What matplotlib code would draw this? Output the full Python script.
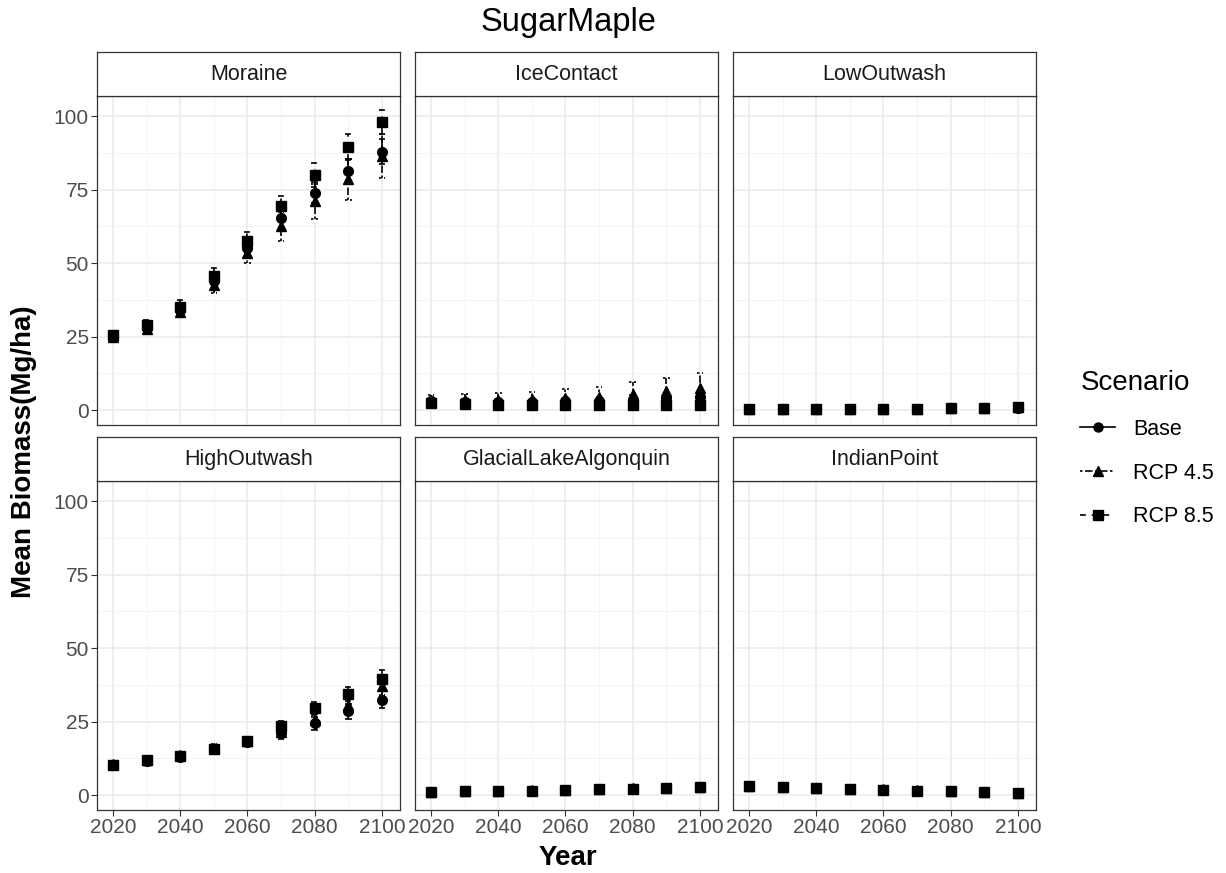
import matplotlib.pyplot as plt
from matplotlib.lines import Line2D
import numpy as np

plt.rcParams['font.family'] = ['Liberation Sans', 'DejaVu Sans']

years = [2020, 2030, 2040, 2050, 2060, 2070, 2080, 2090, 2100]
regions = ['Moraine', 'IceContact', 'LowOutwash',
           'HighOutwash', 'GlacialLakeAlgonquin', 'IndianPoint']
scenarios = ['Base', 'RCP 4.5', 'RCP 8.5']

# mean biomass per region, one list per scenario (Base, RCP 4.5, RCP 8.5)
moraine_mean = [[24.8, 28.0, 34.0, 44.0, 55.0, 65.5, 74.0, 81.5, 88.0],
                [25.0, 27.5, 33.5, 42.5, 53.5, 62.5, 71.0, 78.5, 86.5],
                [25.5, 29.0, 35.0, 45.5, 57.5, 69.5, 80.0, 89.5, 98.0]]
moraine_se = [[1.0, 1.4, 1.8, 2.3, 2.8, 3.2, 3.6, 4.0, 4.2],
              [1.0, 1.5, 2.0, 2.8, 3.5, 5.0, 6.0, 7.0, 7.5],
              [1.0, 1.6, 2.5, 3.0, 3.2, 3.5, 4.2, 4.3, 4.2]]

icecontact_mean = [[3.0, 2.8, 2.8, 2.7, 3.0, 3.2, 3.5, 4.0, 4.5],
                   [3.5, 3.5, 3.5, 3.8, 4.0, 4.5, 5.5, 6.5, 7.5],
                   [2.5, 2.0, 1.8, 1.8, 1.8, 1.8, 1.8, 1.7, 1.6]]
icecontact_se = [[1.0, 1.0, 1.0, 1.0, 1.2, 1.3, 1.5, 1.7, 2.0],
                 [1.5, 2.0, 2.2, 2.5, 3.0, 3.5, 4.0, 4.5, 5.0],
                 [0.8, 0.8, 0.8, 0.7, 0.7, 0.7, 0.7, 0.6, 0.6]]

lowoutwash_mean = [[0.2, 0.3, 0.3, 0.4, 0.4, 0.5, 0.6, 0.7, 0.8],
                   [0.2, 0.3, 0.3, 0.4, 0.5, 0.5, 0.6, 0.8, 0.9],
                   [0.2, 0.3, 0.3, 0.4, 0.4, 0.5, 0.6, 0.7, 0.9]]
lowoutwash_se = [[0.2, 0.2, 0.2, 0.2, 0.3, 0.3, 0.3, 0.3, 0.4],
                 [0.2, 0.2, 0.2, 0.2, 0.3, 0.3, 0.3, 0.4, 0.4],
                 [0.2, 0.2, 0.2, 0.2, 0.3, 0.3, 0.3, 0.3, 0.4]]

highoutwash_mean = [[10.2, 11.5, 13.0, 15.5, 18.0, 21.0, 24.5, 28.5, 32.5],
                    [10.5, 12.0, 13.5, 16.0, 18.5, 21.5, 25.5, 30.5, 37.0],
                    [10.3, 11.8, 13.3, 15.8, 18.5, 23.5, 29.5, 34.5, 39.5]]
highoutwash_se = [[0.8, 0.9, 1.0, 1.2, 1.4, 1.8, 2.2, 2.6, 2.8],
                  [0.8, 0.9, 1.0, 1.2, 1.4, 1.7, 2.0, 2.5, 3.0],
                  [0.8, 0.9, 1.0, 1.2, 1.4, 1.8, 2.2, 2.4, 3.0]]

gla_mean = [[1.0, 1.2, 1.4, 1.5, 1.7, 1.9, 2.1, 2.4, 2.7],
            [1.1, 1.3, 1.5, 1.6, 1.8, 2.0, 2.3, 2.5, 2.9],
            [1.0, 1.2, 1.4, 1.5, 1.7, 1.9, 2.2, 2.4, 2.8]]
gla_se = [[0.3, 0.3, 0.4, 0.4, 0.4, 0.4, 0.5, 0.5, 0.6],
          [0.3, 0.3, 0.4, 0.4, 0.4, 0.5, 0.5, 0.6, 0.6],
          [0.3, 0.3, 0.4, 0.4, 0.4, 0.4, 0.5, 0.5, 0.6]]

indianpoint_mean = [[3.0, 2.7, 2.4, 2.1, 1.8, 1.5, 1.2, 0.9, 0.7],
                    [3.1, 2.8, 2.5, 2.2, 1.9, 1.6, 1.3, 1.0, 0.8],
                    [3.0, 2.7, 2.4, 2.1, 1.8, 1.5, 1.2, 0.9, 0.7]]
indianpoint_se = [[0.5, 0.5, 0.4, 0.4, 0.4, 0.3, 0.3, 0.3, 0.3],
                  [0.5, 0.5, 0.4, 0.4, 0.4, 0.3, 0.3, 0.3, 0.3],
                  [0.5, 0.5, 0.4, 0.4, 0.4, 0.3, 0.3, 0.3, 0.3]]

means = [moraine_mean, icecontact_mean, lowoutwash_mean,
         highoutwash_mean, gla_mean, indianpoint_mean]
ses = [moraine_se, icecontact_se, lowoutwash_se,
       highoutwash_se, gla_se, indianpoint_se]

markers = ['o', '^', 's']
linestyles = ['-', (0, (1.5, 1.5, 4.5, 1.5)), (0, (3.5, 3.5))]

W, H = 1226, 873
fig = plt.figure(figsize=(W / 100, H / 100), dpi=100)


def px_box(left, top, width, height):
    return [left / W, 1 - (top + height) / H, width / W, height / H]


col_left = [97, 415, 733]
col_width = 303
row_top = [96, 481]
panel_h = 329
strip_h = 44
cap = 1.0

for i, region in enumerate(regions):
    r, c = divmod(i, 3)
    ax = fig.add_axes(px_box(col_left[c], row_top[r], col_width, panel_h))
    ax.set_xlim(2015.2, 2105.4)
    ax.set_ylim(-5.1, 106.9)
    ax.set_xticks([2020, 2040, 2060, 2080, 2100])
    ax.set_xticks([2030, 2050, 2070, 2090], minor=True)
    ax.set_yticks([0, 25, 50, 75, 100])
    ax.set_yticks([12.5, 37.5, 62.5, 87.5], minor=True)
    ax.grid(which='major', color='#EBEBEB', lw=1.1)
    ax.grid(which='minor', color='#F2F2F2', lw=0.6)
    ax.set_axisbelow(True)
    ax.tick_params(which='minor', length=0)
    ax.tick_params(which='major', length=4, width=0.8, color='#333333',
                   labelsize=15, labelcolor='#4D4D4D', pad=2)
    if c != 0:
        ax.tick_params(axis='y', length=0, labelleft=False)
    if r == 0:
        ax.tick_params(axis='x', length=0, labelbottom=False)
    for sp in ax.spines.values():
        sp.set_color('#333333')
        sp.set_linewidth(0.9)

    for k in range(3):
        m = np.array(means[i][k])
        e = np.array(ses[i][k])
        x = np.array(years)
        ax.vlines(x, m - e, m + e, colors='black', lw=1.2,
                  linestyles=[linestyles[k]], zorder=3)
        ax.hlines(m + e, x - cap, x + cap, colors='black', lw=1.2,
                  linestyles=[linestyles[k]], zorder=3)
        ax.hlines(m - e, x - cap, x + cap, colors='black', lw=1.2,
                  linestyles=[linestyles[k]], zorder=3)
        ax.plot(years, m, ls='none', marker=markers[k], ms=7,
                color='black', zorder=4)

    sax = fig.add_axes(px_box(col_left[c], row_top[r] - strip_h, col_width, strip_h))
    sax.set_xticks([])
    sax.set_yticks([])
    for sp in sax.spines.values():
        sp.set_color('#333333')
        sp.set_linewidth(0.9)
    sax.text(0.5, 0.5, region, ha='center', va='center', fontsize=15.5,
             color='#1A1A1A', transform=sax.transAxes)

fig.text(568 / W, 1 - 22 / H, 'SugarMaple', ha='center', va='center', fontsize=23.5)
fig.text(568 / W, 1 - 858 / H, 'Year', ha='center', va='center',
         fontsize=20, fontweight='bold')
fig.text(24 / W, 1 - 452 / H, 'Mean Biomass(Mg/ha)', ha='center', va='center',
         rotation=90, fontsize=20, fontweight='bold')

handles = [Line2D([], [], color='black', lw=1.2, ls=linestyles[k],
                  marker=markers[k], ms=6.5) for k in range(3)]
leg = fig.legend(handles, scenarios, title='Scenario', loc='upper left',
                 bbox_to_anchor=(1061 / W, 1 - 351 / H), frameon=False,
                 fontsize=15.5, title_fontsize=20, handlelength=1.6,
                 labelspacing=1.05, handletextpad=0.85)
leg._legend_box.align = 'left'

fig.savefig('out.png', dpi=100)
